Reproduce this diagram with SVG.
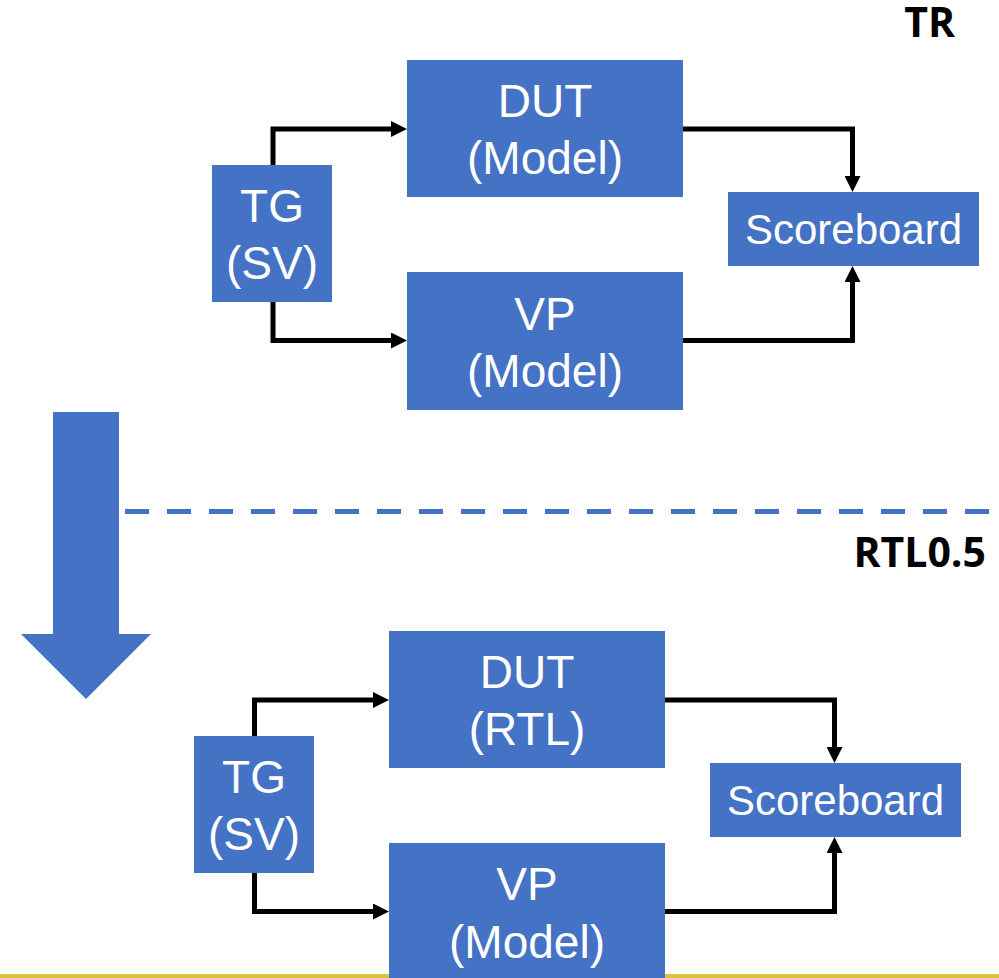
<svg xmlns="http://www.w3.org/2000/svg" width="999" height="978" viewBox="0 0 999 978">
<style>
.box{fill:#4472C4}
.lbl{fill:#FFFFFF;font-family:"Liberation Sans",Arial,sans-serif;font-size:46px;text-anchor:middle}
.sb{font-size:42px}
.conn{fill:none;stroke:#000000;stroke-width:5;stroke-linejoin:miter}
.stage{fill:#000000;font-family:"Open Sans","Noto Sans",sans-serif;font-weight:bold;font-size:41px;text-anchor:end}
</style>
<defs>
<marker id="ah" markerUnits="userSpaceOnUse" markerWidth="16" markerHeight="16" viewBox="0 0 16 16" refX="0" refY="8" orient="auto">
<path d="M0,0 L16,8 L0,16 Z" fill="#000000"/>
</marker>
</defs>
<rect x="0" y="0" width="999" height="978" fill="#FFFFFF"/>

<g id="bigArrow"><path d="M53,412 L119,412 L119,634 L151,634 L86,699 L21,634 L53,634 Z" fill="#4472C4"/></g>
<g id="divider"><line x1="125" y1="511.5" x2="999" y2="511.5" stroke="#4472C4" stroke-width="5" stroke-dasharray="24 18"/></g>
<g id="baseline"><rect x="0" y="974" width="999" height="4" fill="#DCC23A"/></g>

<text class="stage" x="955" y="37">TR</text>
<text class="stage" x="986" y="567">RTL0.5</text>

<g id="connectors">
<path class="conn" d="M273,165 L273,129 L391,129" marker-end="url(#ah)"/>
<path class="conn" d="M273,302 L273,340.5 L391,340.5" marker-end="url(#ah)"/>
<path class="conn" d="M683,129 L852.5,129 L852.5,176" marker-end="url(#ah)"/>
<path class="conn" d="M683,340.5 L852.5,340.5 L852.5,282" marker-end="url(#ah)"/>
<path class="conn" d="M254.5,736 L254.5,700 L373,700" marker-end="url(#ah)"/>
<path class="conn" d="M254.5,873 L254.5,911.5 L373,911.5" marker-end="url(#ah)"/>
<path class="conn" d="M665,700 L834.5,700 L834.5,747" marker-end="url(#ah)"/>
<path class="conn" d="M665,911.5 L834.5,911.5 L834.5,853" marker-end="url(#ah)"/>
</g>

<g id="tr_tg"><rect class="box" x="212" y="165" width="120" height="137"/><text class="lbl" x="272" y="222">TG</text><text class="lbl" x="272" y="279">(SV)</text></g>
<g id="tr_dut"><rect class="box" x="407" y="60" width="276" height="137"/><text class="lbl" x="545" y="117">DUT</text><text class="lbl" x="545" y="174">(Model)</text></g>
<g id="tr_vp"><rect class="box" x="407" y="272" width="276" height="138"/><text class="lbl" x="545" y="329.5">VP</text><text class="lbl" x="545" y="386.5">(Model)</text></g>
<g id="tr_sb"><rect class="box" x="728" y="192" width="251" height="74"/><text class="lbl sb" x="853.5" y="244">Scoreboard</text></g>

<g id="rtl_tg"><rect class="box" x="194" y="736" width="120" height="137"/><text class="lbl" x="254" y="793">TG</text><text class="lbl" x="254" y="850">(SV)</text></g>
<g id="rtl_dut"><rect class="box" x="389" y="631" width="276" height="137"/><text class="lbl" x="527" y="688">DUT</text><text class="lbl" x="527" y="745">(RTL)</text></g>
<g id="rtl_vp"><rect class="box" x="389" y="843" width="276" height="135"/><text class="lbl" x="527" y="900">VP</text><text class="lbl" x="527" y="958">(Model)</text></g>
<g id="rtl_sb"><rect class="box" x="710" y="763" width="251" height="74"/><text class="lbl sb" x="835.5" y="815">Scoreboard</text></g>
</svg>
